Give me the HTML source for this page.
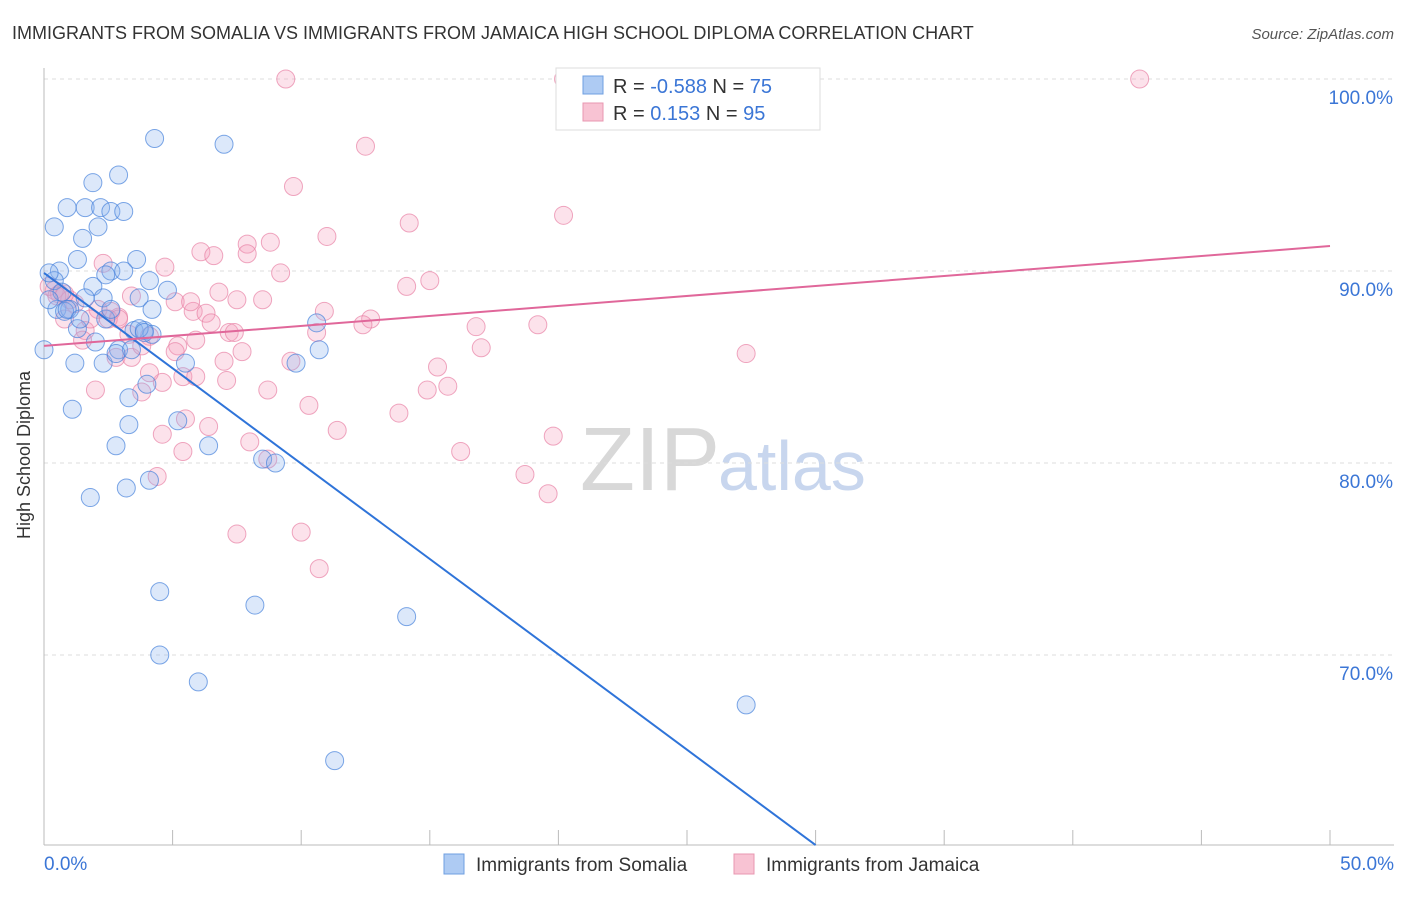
<!DOCTYPE html>
<html><head><meta charset="utf-8"><style>
body{margin:0;background:#fff;font-family:"Liberation Sans",sans-serif}
svg text{font-family:"Liberation Sans",sans-serif}
</style></head><body>
<svg width="1406" height="892" id="c">
<text x="12" y="39" font-size="18" fill="#333">IMMIGRANTS FROM SOMALIA VS IMMIGRANTS FROM JAMAICA HIGH SCHOOL DIPLOMA CORRELATION CHART</text>
<text x="1394" y="39" font-size="15" fill="#555" font-style="italic" text-anchor="end">Source: ZipAtlas.com</text>
<text x="30" y="455" font-size="18" fill="#333" transform="rotate(-90 30 455)" text-anchor="middle">High School Diploma</text>
<text x="720" y="490" font-size="90" fill="#d8d8d8" text-anchor="end" font-family="Liberation Serif">ZIP</text>
<text x="718" y="490" font-size="70" fill="#c8d6ee">atlas</text>
<g id="grid"></g><g id="pts"></g><g id="lines"></g>
<g>
<rect x="556" y="68" width="264" height="62" fill="#fff" stroke="#ddd"/>
<rect x="583" y="76" width="20" height="18" fill="#aecbf3" stroke="#6f9fe0"/>
<rect x="583" y="103" width="20" height="18" fill="#f8c3d3" stroke="#e897b0"/>
<text x="613" y="93" font-size="20" fill="#333">R = <tspan fill="#3b76d6">-0.588</tspan>   N = <tspan fill="#3b76d6">75</tspan></text>
<text x="613" y="120" font-size="20" fill="#333">R =   <tspan fill="#3b76d6">0.153</tspan>   N = <tspan fill="#3b76d6">95</tspan></text>
</g>
<g>
<rect x="444" y="854" width="20" height="20" fill="#aecbf3" stroke="#6f9fe0"/>
<text x="476" y="871" font-size="19" fill="#333">Immigrants from Somalia</text>
<rect x="734" y="854" width="20" height="20" fill="#f8c3d3" stroke="#e897b0"/>
<text x="766" y="871" font-size="19" fill="#333">Immigrants from Jamaica</text>
</g>
</svg>
<script>
const yTicks=[100,90,80,70];
const xTickLabels=["0.0%","50.0%"];
const somaliaX=[0,0.4,0.9,1.9,2.9,1.6,2.2,2.6,3.1,2.1,1.5,1.3,0.6,0.4,0.5,1,1.9,2.3,2.6,3.6,3.1,4.1,4.8,3.7,4.2,1.3,2,3.5,3.9,4.2,2.9,3.4,2.3,1.2,2.8,4,3.3,1.1,3.3,5.2,6.4,2.8,5.5,3.2,4.1,1.8,4.3,7,4.5,8.2,4.5,6,14.1,11.3,27.3,8.5,9,10.6,10.7,9.8,0.2,0.7,0.8,0.9,1.4,2.4,3.7,3.9,2.4,1.6,0.2,2.6];
const somaliaY=[85.9,92.3,93.3,94.6,95,93.3,93.3,93.1,93.1,92.3,91.7,90.6,90,89.5,88,88,89.2,88.6,90,90.6,90,89.5,89,88.6,88,87,86.3,86.9,86.9,86.7,85.9,85.9,85.2,85.2,85.7,84.1,83.4,82.8,82,82.2,80.9,80.9,85.2,78.7,79.1,78.2,96.9,96.6,73.3,72.6,70,68.6,72,64.5,67.4,80.2,80,87.3,85.9,85.2,89.9,88.9,87.9,88,87.5,87.5,87,86.8,89.8,88.6,88.5,88];
const jamaicaX=[9.4,20.2,42.6,12.5,9.7,20.2,14.2,11,8.8,7.9,6.1,6.6,7.9,2.3,4.7,9.2,15,14.1,6.8,3.4,7.5,8.5,5.1,5.8,6.3,10.9,2.9,2.5,12.7,12.4,16.8,19.2,1.6,4.1,7.2,10.6,5.9,5.2,7.7,17,27.3,2.8,3.4,5.1,7,9.6,15.3,5.4,5.9,7.1,4.6,15.7,14.9,2,3.8,8.7,10.3,13.8,5.5,6.4,11.4,4.6,8,19.8,5.4,16.2,8.7,18.7,4.4,19.6,7.5,10,10.7,0.4,0.6,1,1.2,2.1,2.6,0.2,0.8,1.5,3.3,4.1,6.5,3.8,0.5,2.9,1.8,5.7,7.4,0.8];
const jamaicaY=[100,100,100,96.5,94.4,92.9,92.5,91.8,91.5,91.4,91,90.8,90.9,90.4,90.2,89.9,89.5,89.2,88.9,88.7,88.5,88.5,88.4,87.9,87.8,87.9,87.6,87.5,87.5,87.2,87.1,87.2,86.9,86.6,86.8,86.8,86.4,86.1,85.8,86,85.7,85.5,85.5,85.8,85.3,85.3,85,84.5,84.5,84.3,84.2,84,83.8,83.8,83.7,83.8,83,82.6,82.3,81.9,81.7,81.5,81.1,81.4,80.6,80.6,80.2,79.4,79.3,78.4,76.3,76.4,74.5,89.0,88.8,88.5,88.3,88,87.9,89.2,87.5,86.4,86.7,84.7,87.3,86.1,88.7,87.5,87.5,88.4,86.8,88.8];
const somaliaFit=[[0,89.9],[30,60.1]];
const jamaicaFit=[[0,86.1],[50,91.3]];
const NS="http://www.w3.org/2000/svg";
const X=v=>44+v/50*1286, Y=v=>79+(100-v)*19.2;
function mk(t,a,p){const e=document.createElementNS(NS,t);for(const k in a)e.setAttribute(k,a[k]);document.getElementById(p).appendChild(e);return e;}
yTicks.forEach(t=>{
 const l=mk('line',{x1:44,x2:1394,y1:Y(t),y2:Y(t),stroke:'#ddd','stroke-dasharray':'4 4'},'grid');
 
 
 const tx=mk('text',{x:1393,y:Y(t)+25,'font-size':19,fill:'#3b76d6','text-anchor':'end'},'grid');tx.textContent=t.toFixed(1)+'%';
 
 
});
mk('line',{x1:44,x2:44,y1:68,y2:845,stroke:'#bbb'},'grid');
mk('line',{x1:44,x2:1394,y1:845,y2:845,stroke:'#bbb'},'grid');
for(let i=0;i<=10;i++){const t=mk('line',{x1:X(i*5),x2:X(i*5),y1:830,y2:845,stroke:'#bbb'},'grid');
 
 }
[[0,'start',44],[1,'end',1394]].forEach(([i,a,x])=>{const t=mk('text',{x:x,y:870,'font-size':19,fill:'#3b76d6','text-anchor':a},'grid');t.textContent=xTickLabels[i];
 
 });
jamaicaX.forEach((x,i)=>{const c=mk('circle',{cx:X(x),cy:Y(jamaicaY[i]),r:9,fill:'rgba(244,160,188,0.3)',stroke:'rgba(232,130,165,0.7)'},'pts');
 
 });
somaliaX.forEach((x,i)=>{const c=mk('circle',{cx:X(x),cy:Y(somaliaY[i]),r:9,fill:'rgba(140,180,240,0.3)',stroke:'rgba(70,130,220,0.7)'},'pts');
 
 });
const s=mk('line',{x1:X(somaliaFit[0][0]),y1:Y(somaliaFit[0][1]),x2:X(somaliaFit[1][0]),y2:Y(somaliaFit[1][1]),stroke:'#2f74d9','stroke-width':2},'lines');


const j=mk('line',{x1:X(jamaicaFit[0][0]),y1:Y(jamaicaFit[0][1]),x2:X(jamaicaFit[1][0]),y2:Y(jamaicaFit[1][1]),stroke:'#e0679a','stroke-width':2},'lines');


</script>
</body></html>
